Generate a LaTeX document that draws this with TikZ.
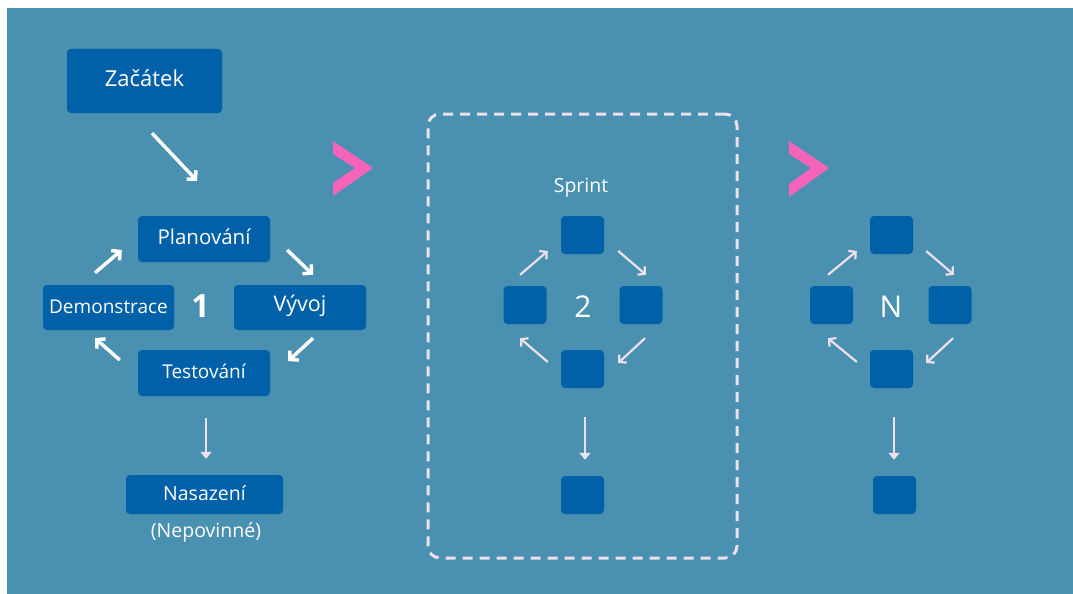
\documentclass[tikz,border=0pt]{standalone}
\usepackage{fontspec}
\setmainfont{Open Sans}
\usepackage{tikz}
\usetikzlibrary{arrows.meta,positioning,calc}
\definecolor{bgteal}{RGB}{74,144,176}
\definecolor{boxblue}{RGB}{0,96,168}
\definecolor{chevpink}{RGB}{245,100,185}
\definecolor{paleline}{RGB}{236,224,234}
\tikzstyle{phase}=[fill=boxblue,rounded corners=4pt,text=white,inner sep=0pt,text height=1.15em,text depth=0em]
\tikzstyle{cell}=[fill=boxblue,rounded corners=4pt,minimum width=43pt,minimum height=38pt]
\tikzstyle{cyc}=[white,line width=3.5pt,-{Straight Barb[length=6pt,width=13pt]}]
\tikzstyle{sprcyc}=[paleline,line width=2.2pt,-{Straight Barb[length=5pt,width=11pt]}]
\tikzstyle{down}=[paleline,line width=2.5pt,-{Triangle[length=7pt,width=11pt]}]
\tikzstyle{chev}=[fill=chevpink]

\begin{document}
\begin{tikzpicture}[x=1pt,y=-1pt]
\useasboundingbox (0,0) rectangle (1073,594);
\fill[white] (0,0) rectangle (1073,594);
\fill[bgteal] (7,8) rectangle (1073,594);

% first iteration
\node [phase,minimum width=155pt,minimum height=64pt,font=\fontsize{22}{26}\selectfont] (start) at (144.5,81) {Začátek};
\node [phase,minimum width=132pt,minimum height=46pt,font=\fontsize{20.5}{24}\selectfont] (plan) at (204,239) {Planování};
\node [phase,minimum width=131pt,minimum height=45pt,font=\fontsize{19}{23}\selectfont] (demo) at (108.5,307.5) {Demonstrace};
\node [phase,minimum width=132pt,minimum height=45pt,font=\fontsize{21.5}{25}\selectfont,text height=0.8em] (dev) at (300,307.5) {Vývoj};
\node [phase,minimum width=132pt,minimum height=46pt,font=\fontsize{19}{23}\selectfont] (test) at (204,373) {Testování};
\node [text=white,font=\bfseries\fontsize{32}{36}\selectfont] (one) at (200.5,306.5) {1};
\node [phase,minimum width=157pt,minimum height=39pt,font=\fontsize{19.5}{23}\selectfont] (deploy) at (204.5,494.5) {Nasazení};
\node [text=white,font=\fontsize{19.5}{23}\selectfont] (optional) at (206,532) {(Nepovinné)};

\draw [cyc] ([shift={(7.5,20)}]start.south) -- ([shift={(-7,-35)}]plan.north);
\draw [cyc] ([shift={(-13.5,-12)}]demo.north) -- ([shift={(-16,11)}]plan.west);
\draw [cyc] ([shift={(17,11)}]plan.east) -- ([shift={(13,-10)}]dev.north);
\draw [cyc] ([shift={(13,8)}]dev.south) -- ([shift={(18,-12)}]test.east);
\draw [cyc] ([shift={(-18,-13)}]test.west) -- ([shift={(-13.5,8)}]demo.south);
\draw [down] ([shift={(2,22)}]test.south) -- ([shift={(1.5,-16)}]deploy.north);

% chevrons between iterations
\fill [chev] (333,141) -- (373,168) -- (333,196) -- (333,183) -- (355,168) -- (333,154) -- cycle;
\fill [chev] (789,141) -- (829,168) -- (789,197) -- (789,184) -- (811,168) -- (789,154) -- cycle;

% sprint 2
\node [draw=paleline,line width=3pt,dash pattern=on 10pt off 7pt,rounded corners=12pt,minimum width=309pt,minimum height=444pt] (sprintbox) at (582.5,336) {};
\node [text=white,font=\fontsize{19.5}{23}\selectfont] (sprint) at (581,188) {Sprint};
\node [cell] (s2top) at (582.5,235) {};
\node [cell] (s2left) at (525,305) {};
\node [cell] (s2right) at (641,305) {};
\node [cell] (s2bot) at (582.5,369) {};
\node [cell] (s2end) at (582.5,495) {};
\node [text=white,font=\fontsize{30}{34}\selectfont] (two) at (583,307) {2};

\draw [sprcyc] ([shift={(-5,-11)}]s2left.north) -- ([shift={(-13,16)}]s2top.west);
\draw [sprcyc] ([shift={(14,16)}]s2top.east) -- ([shift={(5,-11)}]s2right.north);
\draw [sprcyc] ([shift={(4,14)}]s2right.south) -- ([shift={(14,-6)}]s2bot.east);
\draw [sprcyc] ([shift={(-13,-7)}]s2bot.west) -- ([shift={(-5,14)}]s2left.south);
\draw [down] ([shift={(2.5,29)}]s2bot.south) -- ([shift={(2.5,-16)}]s2end.north);

% sprint N
\node [cell] (ntop) at (891.5,235) {};
\node [cell] (nleft) at (831.5,305) {};
\node [cell] (nright) at (950,305) {};
\node [cell] (nbot) at (891.5,369) {};
\node [cell] (nend) at (894.5,495) {};
\node [text=white,font=\fontsize{30}{34}\selectfont] (last) at (891,307) {N};

\draw [sprcyc] ([shift={(-3.5,-11)}]nleft.north) -- ([shift={(-13,16)}]ntop.west);
\draw [sprcyc] ([shift={(13,16)}]ntop.east) -- ([shift={(4,-11)}]nright.north);
\draw [sprcyc] ([shift={(3,14)}]nright.south) -- ([shift={(13,-6)}]nbot.east);
\draw [sprcyc] ([shift={(-13,-7)}]nbot.west) -- ([shift={(-3.5,14)}]nleft.south);
\draw [down] ([shift={(2.5,29)}]nbot.south) -- ([shift={(-0.5,-16)}]nend.north);
\end{tikzpicture}
\end{document}
